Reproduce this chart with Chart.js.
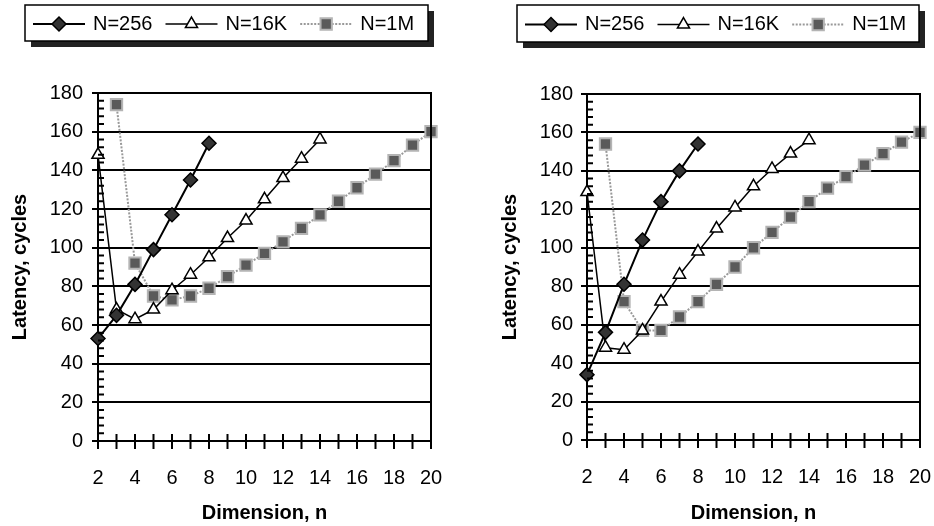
<!doctype html>
<html lang="en">
<head>
  <meta charset="utf-8">
  <title>Latency vs. dimension</title>
  <script src="https://cdn.jsdelivr.net/npm/chart.js"></script>
  <style>
    body { margin: 0; background: #fff; }
    .panel { position: absolute; top: 0; width: 467px; height: 526px; }
  </style>
</head>
<body>
  <div class="panel" style="left:0"><canvas id="chartLeft"></canvas></div>
  <div class="panel" style="left:467px"><canvas id="chartRight"></canvas></div>

  <script>
    const seriesNames = ['N=256', 'N=16K', 'N=1M'];
    const xTicks = [2, 4, 6, 8, 10, 12, 14, 16, 18, 20];
    const yTicks = [0, 20, 40, 60, 80, 100, 120, 140, 160, 180];

    // dimension n of each point
    const dims256 = [2, 3, 4, 5, 6, 7, 8];
    const dims16K = [2, 3, 4, 5, 6, 7, 8, 9, 10, 11, 12, 13, 14];
    const dims1M = [3, 4, 5, 6, 7, 8, 9, 10, 11, 12, 13, 14, 15, 16, 17, 18, 19, 20];

    // latency in cycles, left panel
    const left256 = [53, 65, 81, 99, 117, 135, 154];
    const left16K = [148, 68, 63, 68, 78, 86, 95, 105, 114, 125, 136, 146, 156];
    const left1M = [174, 92, 75, 73, 75, 79, 85, 91, 97, 103, 110, 117, 124, 131, 138, 145, 153, 160];

    // latency in cycles, right panel
    const right256 = [34, 56, 81, 104, 124, 140, 154];
    const right16K = [129, 48, 47, 57, 72, 86, 98, 110, 121, 132, 141, 149, 156];
    const right1M = [154, 72, 57, 57, 64, 72, 81, 90, 100, 108, 116, 124, 131, 137, 143, 149, 155, 160];

    const FONT = "'Liberation Sans', Arial, sans-serif";
    const INK = '#000';

    const seriesStyle = [
      { borderColor: '#000', borderWidth: 2, pointStyle: 'rectRot', pointRadius: 7,
        pointBackgroundColor: '#333', pointBorderColor: '#000', pointBorderWidth: 1.5 },
      { borderColor: '#000', borderWidth: 1.5, pointStyle: 'triangle', pointRadius: 7,
        pointBackgroundColor: '#fff', pointBorderColor: '#000', pointBorderWidth: 1.5 },
      { borderColor: '#999', borderWidth: 2, borderDash: [2, 1.5], pointStyle: 'rect', pointRadius: 8,
        pointBackgroundColor: '#5a5a5a', pointBorderColor: '#b4b4b4', pointBorderWidth: 2 }
    ];

    function points(xs, ys) {
      return xs.map((x, i) => ({ x: x, y: ys[i] }));
    }

    // minor tick marks on both axes + right frame edge
    const axisMarks = {
      id: 'axisMarks',
      afterDatasetsDraw(chart) {
        const { ctx, chartArea: a, scales: { x, y } } = chart;
        ctx.save();
        ctx.strokeStyle = '#000';
        ctx.lineWidth = 2;
        ctx.beginPath();
        for (let n = 2; n <= 20; n++) {
          const px = x.getPixelForValue(n);
          ctx.moveTo(px, a.bottom - 7);
          ctx.lineTo(px, a.bottom + 8);
        }
        for (let v = 4; v < 180; v += 4) {
          if (v % 20 === 0) continue;
          const py = y.getPixelForValue(v);
          ctx.moveTo(a.left, py);
          ctx.lineTo(a.left + 6, py);
        }
        ctx.moveTo(a.right, a.top - 1);
        ctx.lineTo(a.right, a.bottom);
        ctx.stroke();
        ctx.restore();
      }
    };

    // boxed legend with drop shadow, samples show line + marker
    const boxLegend = {
      id: 'boxLegend',
      afterDraw(chart, args, opts) {
        const { ctx } = chart;
        const b = opts.box;
        ctx.save();
        ctx.fillStyle = '#222';
        ctx.fillRect(b.x + 6, b.y + 6, b.w, b.h);
        ctx.fillStyle = '#fff';
        ctx.fillRect(b.x, b.y, b.w, b.h);
        ctx.strokeStyle = '#000';
        ctx.lineWidth = 1.5;
        ctx.strokeRect(b.x, b.y, b.w, b.h);

        ctx.font = '20px ' + FONT;
        ctx.textBaseline = 'middle';
        ctx.fillStyle = INK;
        const cy = b.y + b.h / 2 + 1;
        let x = b.x + 8;
        chart.data.datasets.forEach(ds => {
          ctx.save();
          ctx.strokeStyle = ds.borderColor;
          ctx.lineWidth = ds.borderWidth;
          ctx.setLineDash(ds.borderDash || []);
          ctx.beginPath();
          ctx.moveTo(x, cy);
          ctx.lineTo(x + opts.sample, cy);
          ctx.stroke();
          ctx.restore();
          ctx.save();
          ctx.fillStyle = ds.pointBackgroundColor;
          ctx.strokeStyle = ds.pointBorderColor;
          ctx.lineWidth = ds.pointBorderWidth;
          Chart.helpers.drawPoint(ctx, { pointStyle: ds.pointStyle, radius: ds.pointRadius, borderWidth: ds.pointBorderWidth, rotation: 0 }, x + opts.sample / 2, cy);
          ctx.restore();
          x += opts.sample + 8;
          ctx.fillText(ds.label, x, cy);
          x += ctx.measureText(ds.label).width + opts.gap;
        });
        ctx.restore();
      }
    };

    function makeChart(id, ys256, ys16K, ys1M, lay) {
      const sets = [points(dims256, ys256), points(dims16K, ys16K), points(dims1M, ys1M)];
      return new Chart(document.getElementById(id), {
        type: 'line',
        data: {
          datasets: sets.map((d, i) => Object.assign({
            label: seriesNames[i], data: d, fill: false, tension: 0, clip: false
          }, seriesStyle[i]))
        },
        options: {
          responsive: true,
          maintainAspectRatio: false,
          animation: false,
          layout: { padding: { left: 0, right: lay.right, top: lay.top, bottom: 0 } },
          plugins: {
            legend: { display: false },
            tooltip: { enabled: false },
            boxLegend: { box: lay.box, sample: 52, gap: 13 }
          },
          scales: {
            x: {
              type: 'linear', min: 2, max: 20,
              afterBuildTicks: s => { s.ticks = xTicks.map(v => ({ value: v })); },
              afterFit: s => { s.height = lay.xHeight; s.paddingLeft = 0; s.paddingRight = 0; },
              grid: { display: false, drawTicks: false },
              border: { color: '#000', width: 2 },
              ticks: { color: INK, font: { family: FONT, size: 20 }, padding: 25, maxRotation: 0, autoSkip: false },
              title: { display: true, text: 'Dimension, n', color: INK,
                       font: { family: FONT, size: 20, weight: 'bold' }, padding: { top: 0, bottom: 1 } }
            },
            y: {
              min: 0, max: 180,
              afterBuildTicks: s => { s.ticks = yTicks.map(v => ({ value: v })); },
              afterFit: s => { s.width = lay.yWidth; s.paddingTop = 0; s.paddingBottom = 0; },
              grid: { color: '#000', lineWidth: 2, tickLength: 6, drawTicks: true },
              border: { color: '#000', width: 2 },
              ticks: { color: INK, font: { family: FONT, size: 20 }, padding: lay.tickPad },
              title: { display: true, text: 'Latency, cycles', color: INK,
                       font: { family: FONT, size: 20, weight: 'bold' }, padding: { top: lay.titlePad, bottom: 0 } }
            }
          }
        },
        plugins: [axisMarks, boxLegend]
      });
    }

    makeChart('chartLeft', left256, left16K, left1M, {
      right: 36, top: 93, xHeight: 85, yWidth: 98, tickPad: 9, titlePad: 8,
      box: { x: 25, y: 5, w: 403, h: 36 }
    });
    makeChart('chartRight', right256, right16K, right1M, {
      right: 14, top: 94, xHeight: 86, yWidth: 120, tickPad: 8, titlePad: 31,
      box: { x: 50, y: 5, w: 402, h: 37 }
    });
  </script>
</body>
</html>
